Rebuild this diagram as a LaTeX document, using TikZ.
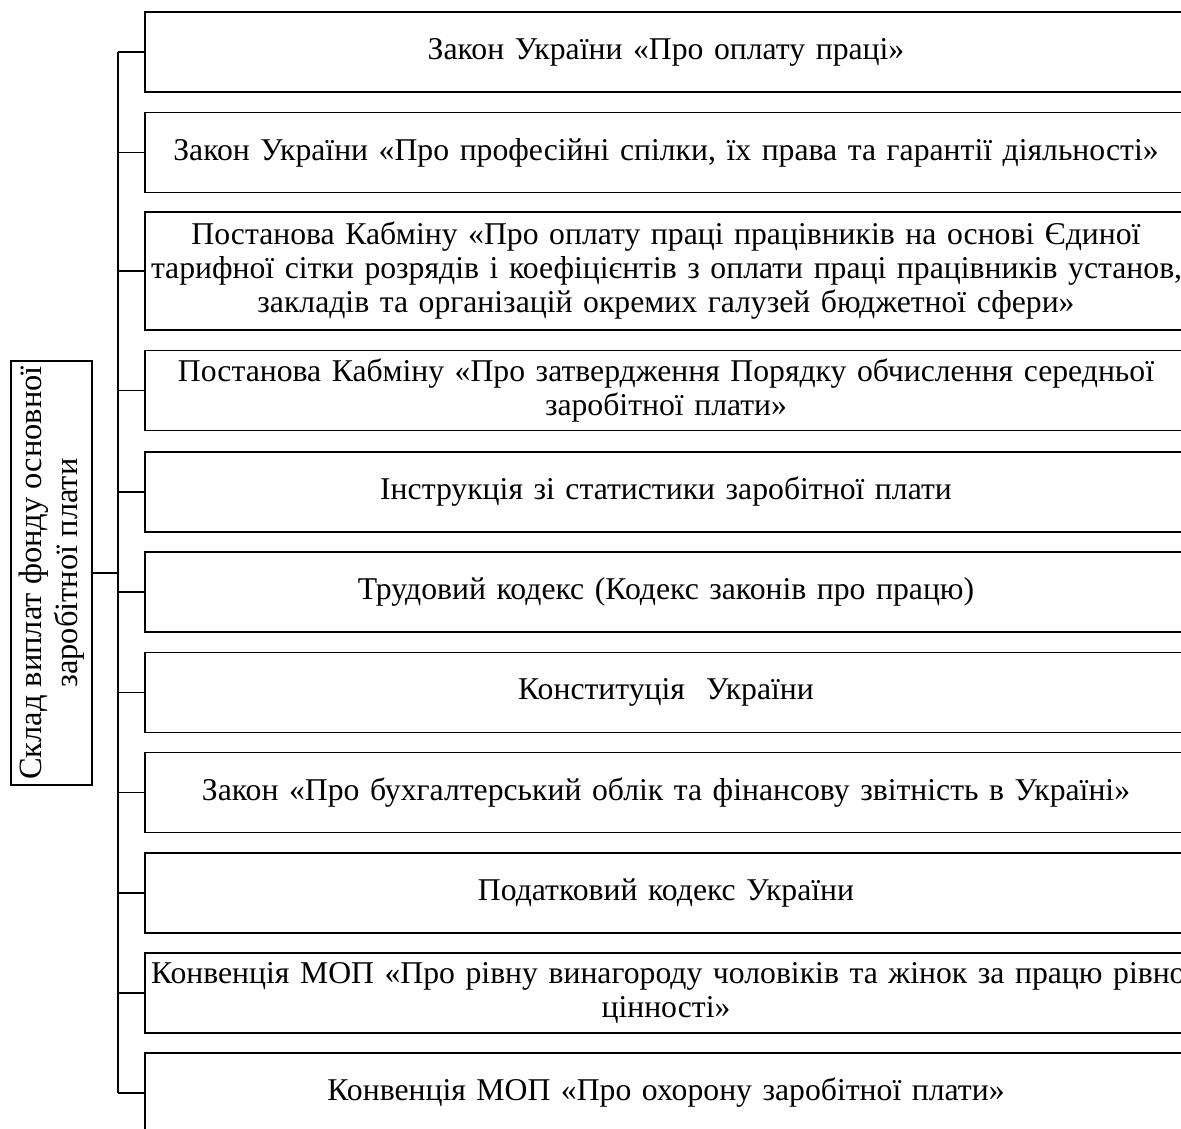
\documentclass[tikz,border=0pt]{standalone}
\usepackage{fontspec}
\setmainfont{Liberation Serif}
\begin{document}
\begin{tikzpicture}[x=1pt,y=-1pt,
  lawbox/.style={draw,line width=1.8pt,minimum width=1042pt,minimum height=80pt,
    inner xsep=6pt,inner ysep=0pt,text width=1030pt,align=center,
    font=\fontsize{31.7}{34}\selectfont},
  link/.style={line width=1.9pt}]
\useasboundingbox (0,0) rectangle (1181,1128);
\clip (0,0) rectangle (1181,1128);
\coordinate (trunk) at (118,0);
\node[lawbox] (b1) at (666,52) {\mbox{Закон України «Про оплату праці»}};
\node[lawbox] (b2) at (666,152.5) {\mbox{Закон України «Про професійні спілки, їх права та гарантії діяльності»}};
\node[lawbox,minimum height=118pt] (b3) at (666,271) {\mbox{Постанова Кабміну «Про оплату праці працівників на основі Єдиної}\\\mbox{тарифної сітки розрядів і коефіцієнтів з оплати праці працівників установ,}\\\mbox{закладів та організацій окремих галузей бюджетної сфери»}};
\node[lawbox] (b4) at (666,390.5) {\mbox{Постанова Кабміну «Про затвердження Порядку обчислення середньої}\\\mbox{заробітної плати»}};
\node[lawbox] (b5) at (666,492) {\mbox{Інструкція зі статистики заробітної плати}};
\node[lawbox] (b6) at (666,592) {\mbox{Трудовий кодекс (Кодекс законів про працю)}};
\node[lawbox] (b7) at (666,692.5) {\mbox{Конституція\ \ України}};
\node[lawbox] (b8) at (666,792.5) {\mbox{Закон «Про бухгалтерський облік та фінансову звітність в Україні»}};
\node[lawbox] (b9) at (666,893) {\mbox{Податковий кодекс України}};
\node[lawbox] (b10) at (666,993) {\mbox{Конвенція МОП «Про рівну винагороду чоловіків та жінок за працю рівної}\\\mbox{цінності»}};
\node[lawbox] (b11) at (666,1093) {\mbox{Конвенція МОП «Про охорону заробітної плати»}};
\node[draw,line width=1.8pt,rotate=90,minimum width=424pt,minimum height=81pt,
  inner sep=0pt,align=center,font=\fontsize{32.5}{36}\selectfont] (left) at (51.5,573)
  {Склад виплат фонду основної\\заробітної плати};
\draw[link] (b1.west -| trunk) -- (b11.west -| trunk);
\foreach \b in {b1,b2,b3,b4,b5,b6,b7,b8,b9,b10,b11}
  \draw[link] (\b.west) -- (\b.west -| trunk);
\draw[link] (left.south) -- (left.south -| trunk);
\end{tikzpicture}
\end{document}
